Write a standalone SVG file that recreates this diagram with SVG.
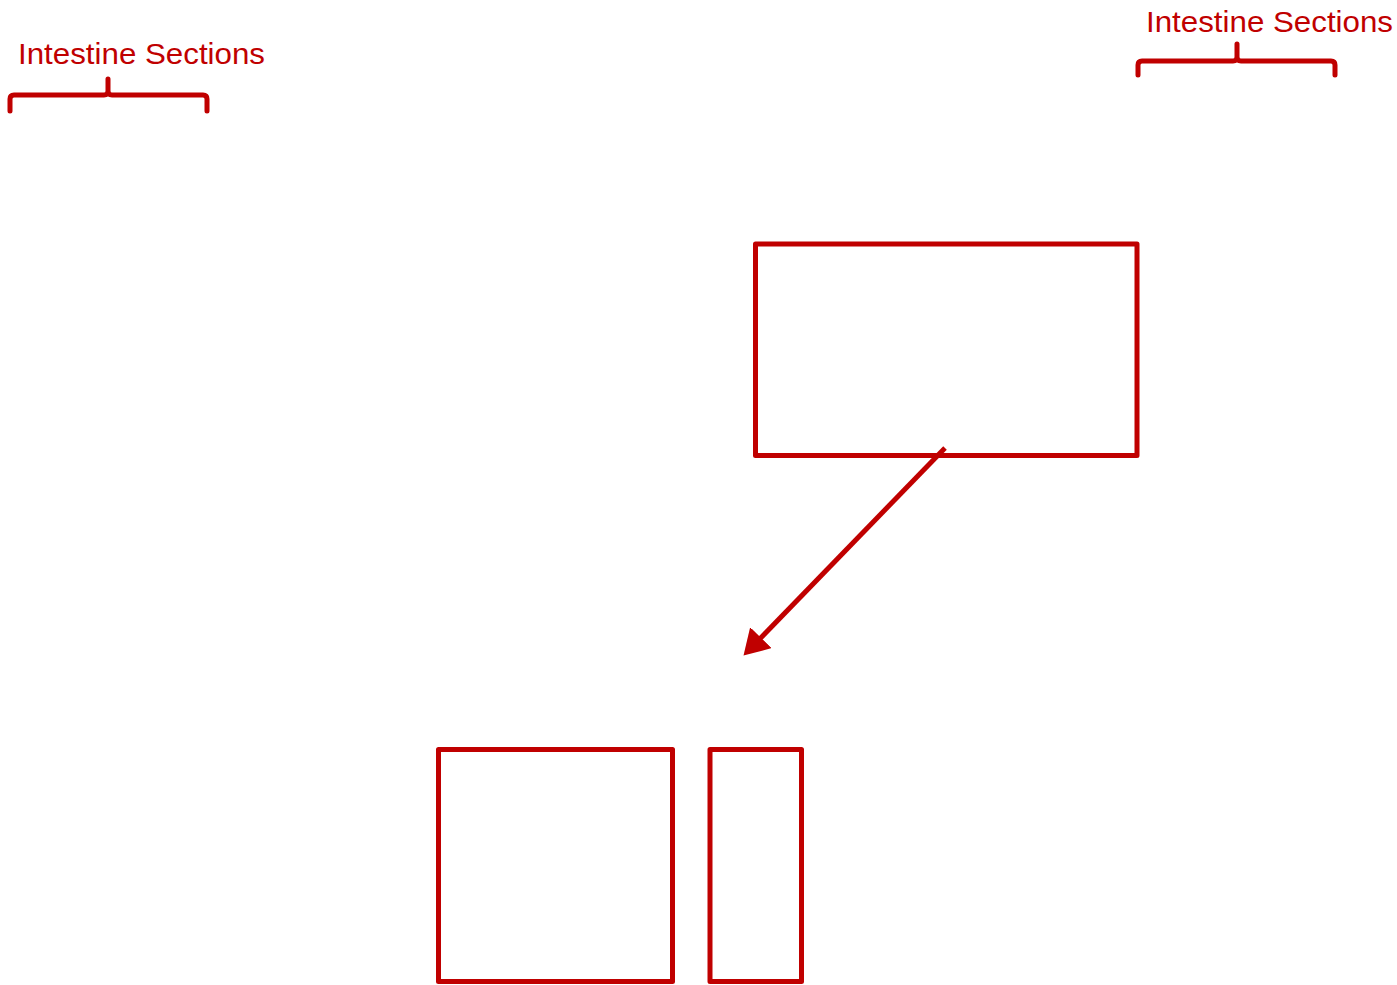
<svg xmlns="http://www.w3.org/2000/svg" width="1397" height="985" viewBox="0 0 1397 985">
<style>
.box{fill:none;stroke:#C00000;stroke-width:5;stroke-linejoin:round}
.brace{fill:none;stroke:#C00000;stroke-width:5;stroke-linecap:round;stroke-linejoin:round}
.lbl{font-family:"Liberation Sans",Arial,sans-serif;font-size:30px;fill:#C00000}
.conn{stroke:#C00000;stroke-width:5;fill:none}
</style>
<defs>
<marker id="ah" markerWidth="6" markerHeight="6" refX="4" refY="3" orient="auto" markerUnits="strokeWidth">
<path d="M0,0 L5,3 L0,6 Z" fill="#C00000"/>
</marker>
</defs>
<rect width="1397" height="985" fill="#ffffff"/>
<g id="label-left">
<text class="lbl" x="18" y="64" textLength="247" lengthAdjust="spacingAndGlyphs">Intestine Sections</text>
<path class="brace" d="M10,111 L10,99 Q10,95 14,95 L104,95 Q108,95 108,91 L108,79 M108,91 Q108,95 112,95 L203,95 Q207,95 207,99 L207,111"/>
</g>
<g id="label-right">
<text class="lbl" x="1146" y="32" textLength="247" lengthAdjust="spacingAndGlyphs">Intestine Sections</text>
<path class="brace" d="M1138,75 L1138,65 Q1138,61 1142,61 L1233,61 Q1237,61 1237,57 L1237,44 M1237,57 Q1237,61 1241,61 L1331,61 Q1335,61 1335,65 L1335,75"/>
</g>
<g id="box-top">
<rect class="box" x="755.5" y="244" width="381.5" height="211.5"/>
</g>
<g id="box-bottom-left">
<rect class="box" x="438.5" y="749.5" width="234" height="232"/>
</g>
<g id="box-bottom-right">
<rect class="box" x="710" y="749.5" width="91.5" height="232"/>
</g>
<g id="connectors">
<line class="conn" x1="945" y1="448" x2="747" y2="652" marker-end="url(#ah)"/>
</g>
</svg>
